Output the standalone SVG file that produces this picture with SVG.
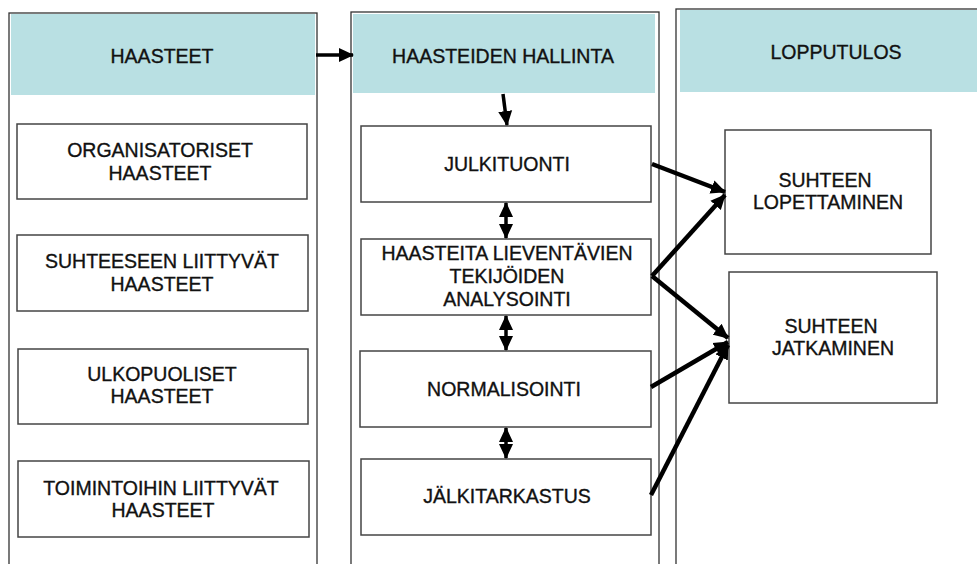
<svg xmlns="http://www.w3.org/2000/svg" width="977" height="564" viewBox="0 0 977 564">
<defs>
<style>
.col{fill:#fff;stroke:#333;stroke-width:1.3}
.hdr{fill:#b9e0e3}
.box{fill:#fff;stroke:#444;stroke-width:1.5}
text{font-family:"Liberation Sans",Arial,sans-serif;font-size:19.5px;fill:#111;stroke:#111;stroke-width:0.35;text-anchor:middle}
.ln{stroke:#000;stroke-width:4.5;fill:none}
.ln2{stroke:#000;stroke-width:3.5;fill:none}
</style>
<marker id="ah" markerUnits="userSpaceOnUse" markerWidth="15" markerHeight="15" refX="14" refY="7.5" orient="auto-start-reverse" viewBox="0 0 15 15">
<path d="M0,0.5 L15,7.5 L0,14.5 z" fill="#000"/>
</marker>
</defs>
<rect width="977" height="564" fill="#fff"/>
<g id="col-haasteet">
<rect class="col" x="9" y="13" width="308" height="570"/>
<rect class="hdr" x="11" y="14" width="304" height="81"/>
<text x="162" y="63">HAASTEET</text>
</g>
<g id="col-hallinta">
<rect class="col" x="351" y="12" width="308" height="570"/>
<rect class="hdr" x="353" y="14" width="302" height="79"/>
<text x="503" y="63">HAASTEIDEN HALLINTA</text>
</g>
<g id="col-lopputulos">
<rect class="col" x="676" y="9" width="330" height="570"/>
<rect class="hdr" x="680" y="10" width="310" height="82"/>
<text x="836" y="59">LOPPUTULOS</text>
</g>
<g id="n-org">
<rect class="box" x="17" y="124" width="290" height="75"/>
<text x="160" y="157">ORGANISATORISET</text>
<text x="160" y="180">HAASTEET</text>
</g>
<g id="n-suht">
<rect class="box" x="17" y="235" width="291" height="76"/>
<text x="162" y="268">SUHTEESEEN LIITTYVÄT</text>
<text x="162" y="291">HAASTEET</text>
</g>
<g id="n-ulko">
<rect class="box" x="18" y="349" width="290" height="75"/>
<text x="162" y="381">ULKOPUOLISET</text>
<text x="162" y="403">HAASTEET</text>
</g>
<g id="n-toim">
<rect class="box" x="18" y="461" width="291" height="76"/>
<text x="161" y="495">TOIMINTOIHIN LIITTYVÄT</text>
<text x="163" y="517">HAASTEET</text>
</g>
<g id="n-julk">
<rect class="box" x="361" y="126" width="290" height="76"/>
<text x="507" y="171">JULKITUONTI</text>
</g>
<g id="n-anal">
<rect class="box" x="361" y="239" width="290" height="76"/>
<text x="507" y="260">HAASTEITA LIEVENTÄVIEN</text>
<text x="507" y="283">TEKIJÖIDEN</text>
<text x="507" y="306">ANALYSOINTI</text>
</g>
<g id="n-norm">
<rect class="box" x="360" y="351" width="291" height="76"/>
<text x="504" y="396">NORMALISOINTI</text>
</g>
<g id="n-jalk">
<rect class="box" x="361" y="459" width="290" height="76"/>
<text x="507" y="503">JÄLKITARKASTUS</text>
</g>
<g id="n-lop">
<rect class="box" x="725" y="130" width="206" height="124"/>
<text x="825" y="187">SUHTEEN</text>
<text x="828" y="209">LOPETTAMINEN</text>
</g>
<g id="n-jatk">
<rect class="box" x="729" y="272" width="208" height="131"/>
<text x="831" y="333">SUHTEEN</text>
<text x="833" y="355">JATKAMINEN</text>
</g>
<g id="connectors">
<line class="ln2" x1="316" y1="55" x2="353" y2="55" marker-end="url(#ah)"/>
<line class="ln2" x1="503" y1="94" x2="507" y2="125" marker-end="url(#ah)"/>
<line class="ln2" x1="506" y1="203" x2="506" y2="238" marker-start="url(#ah)" marker-end="url(#ah)"/>
<line class="ln2" x1="506" y1="316" x2="506" y2="350" marker-start="url(#ah)" marker-end="url(#ah)"/>
<line class="ln2" x1="506" y1="428" x2="506" y2="458" marker-start="url(#ah)" marker-end="url(#ah)"/>
<line class="ln" x1="652" y1="164" x2="725" y2="192" marker-end="url(#ah)"/>
<line class="ln" x1="652" y1="276" x2="725" y2="195" marker-end="url(#ah)"/>
<line class="ln" x1="652" y1="276" x2="728" y2="338" marker-end="url(#ah)"/>
<line class="ln" x1="651" y1="387" x2="728" y2="342" marker-end="url(#ah)"/>
<line class="ln" x1="651" y1="495" x2="728" y2="345" marker-end="url(#ah)"/>
</g>
</svg>
